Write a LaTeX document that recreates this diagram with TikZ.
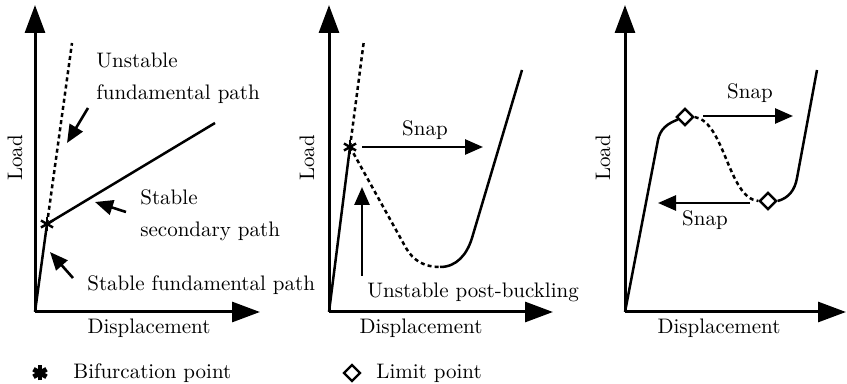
\documentclass[tikz,border=0pt]{standalone}
\usetikzlibrary{arrows.meta, shapes.geometric}

\begin{document}
\begin{tikzpicture}[
  x=0.5pt, y=-0.5pt,
  every node/.style={font=\fontsize{10.5}{16}\selectfont},
  axis/.style={line width=1.5pt, -{Triangle[length=14pt,width=10pt]}},
  curve/.style={line width=1.25pt},
  unstable/.style={curve, dash pattern=on 2pt off 1.6pt},
  pointer/.style={line width=1.3pt, -{Triangle[length=9pt,width=7.5pt]}},
  lbl/.style={anchor=west, align=left, inner sep=0pt},
  limitpt/.style={diamond, draw, line width=1.2pt, fill=white, inner sep=0pt, minimum size=8.5pt},
  bif/.pic={\foreach \a in {90,30,150} \draw[line width=1.2pt] (\a:7) -- (\a+180:7);},
  bifbold/.pic={\foreach \a in {90,30,150} \draw[line width=2.4pt] (\a:7.5) -- (\a+180:7.5);},
]
\useasboundingbox (0,0) rectangle (847,384);

% left: stable bifurcation
\coordinate (o1) at (35,312);
\coordinate (y1) at (35,5);
\coordinate (x1) at (260,312);
\coordinate (b1) at (47,224);
\coordinate (u1) at (72,43);
\coordinate (s1) at (215,123);
\draw[axis] (o1) -- (y1);
\draw[axis] (o1) -- (x1);
\node[rotate=90] (load1) at (15,158) {Load};
\node (disp1) at (149,328) {Displacement};
\draw[curve] (o1) -- (b1);
\draw[unstable] (b1) -- (u1);
\draw[curve] (b1) -- (s1);
\pic at (b1) {bif};
\node[lbl] (unst1) at (96,78) {Unstable\\fundamental path};
\node[lbl] (sec1) at (140,215) {Stable\\secondary path};
\node[lbl] (fund1) at (87,285) {Stable fundamental path};
\coordinate (p1a) at (88,108);  \coordinate (q1a) at (67,143);
\coordinate (p1b) at (126,212); \coordinate (q1b) at (95,202);
\coordinate (p1c) at (73,278);  \coordinate (q1c) at (50,252);
\draw[pointer] (p1a) -- (q1a);
\draw[pointer] (p1b) -- (q1b);
\draw[pointer] (p1c) -- (q1c);

% middle: unstable bifurcation
\coordinate (o2) at (329,312);
\coordinate (y2) at (329,5);
\coordinate (x2) at (553,312);
\coordinate (b2) at (350,147);
\coordinate (u2) at (364,40);
\coordinate (p2a) at (406,248);
\coordinate (p2b) at (440,267);
\coordinate (p2c) at (472,238);
\coordinate (s2) at (522,70);
\draw[axis] (o2) -- (y2);
\draw[axis] (o2) -- (x2);
\node[rotate=90] (load2) at (307,158) {Load};
\node (disp2) at (421,328) {Displacement};
\draw[curve] (o2) -- (b2);
\draw[unstable] (b2) -- (u2);
\draw[unstable] (b2) -- (p2a) to[out=-60,in=180] (p2b);
\draw[curve] (p2b) to[out=0,in=-107] (p2c) -- (s2);
\pic at (b2) {bif};
\coordinate (snap2a) at (362,147); \coordinate (snap2b) at (483,147);
\draw[pointer] (snap2a) -- (snap2b);
\node (snap2) at (425,130) {Snap};
\coordinate (p2d) at (362,276); \coordinate (q2d) at (362,187);
\draw[pointer] (p2d) -- (q2d);
\node[lbl] (post2) at (367,292) {Unstable post-buckling};

% right: limit points
\coordinate (o3) at (625,312);
\coordinate (y3) at (625,5);
\coordinate (x3) at (846,312);
\coordinate (c3a) at (658,140);
\coordinate (c3b) at (797,178);
\coordinate (s3) at (817,70);
\draw[axis] (o3) -- (y3);
\draw[axis] (o3) -- (x3);
\node[rotate=90] (load3) at (603,158) {Load};
\node (disp3) at (719,328) {Displacement};
\node[limitpt] (d1) at (685,117) {};
\node[limitpt] (d2) at (768,201) {};
\draw[curve] (o3) -- (c3a) to[out=79,in=200] (d1);
\draw[unstable] (d1.east) .. controls (725,122) and (728,198) .. (d2.west);
\draw[curve] (d2.east) to[out=15,in=260] (c3b) -- (s3);
\node[limitpt] at (d1) {};
\node[limitpt] at (d2) {};
\coordinate (snap3a) at (703,116); \coordinate (snap3b) at (793,116);
\draw[pointer] (snap3a) -- (snap3b);
\node (snap3) at (750,93) {Snap};
\coordinate (snap3c) at (750,203); \coordinate (snap3d) at (658,203);
\draw[pointer] (snap3c) -- (snap3d);
\node (snap4) at (705,220) {Snap};

% legend
\coordinate (leg1) at (40,373);
\pic at (leg1) {bifbold};
\node[lbl] (bifleg) at (73,373) {Bifurcation point};
\node[limitpt] (limleg) at (352,373) {};
\node[lbl] (limtxt) at (376,373) {Limit point};
\end{tikzpicture}
\end{document}
